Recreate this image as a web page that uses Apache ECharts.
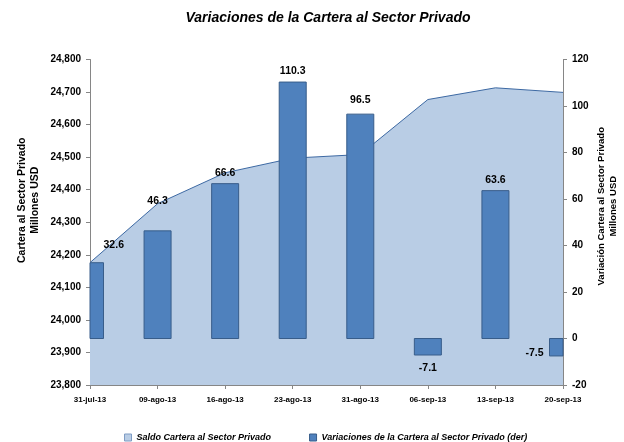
<!DOCTYPE html>
<html>
<head>
<meta charset="utf-8">
<script src="https://cdn.jsdelivr.net/npm/echarts@6/dist/echarts.min.js"></script>
<style>
  html, body { margin: 0; padding: 0; background: #fff; }
  #chart { width: 624px; height: 442px; }
</style>
</head>
<body>
<div id="chart"></div>
<script>
var dom = document.getElementById("chart");
var myChart = echarts.init(dom);

var FONT = "'Liberation Sans', Arial, sans-serif";

// datos
var fechas = ['31-jul-13', '09-ago-13', '16-ago-13', '23-ago-13', '31-ago-13', '06-sep-13', '13-sep-13', '20-sep-13'];
var saldo = [24176, 24357, 24452, 24497, 24508, 24677, 24713, 24699];
var variaciones = [32.6, 46.3, 66.6, 110.3, 96.5, -7.1, 63.6, -7.5];

// ajuste manual de etiquetas (como en el original)
var etiquetas = {
    0: { pos: 'top', dx: 17, dy: -7 },
    1: { pos: 'top', dx: 0, dy: -19 },
    4: { pos: 'top', dx: 0, dy: -4 },
    5: { pos: 'bottom', dx: 0, dy: 3 },
    7: { pos: 'left', dx: -1, dy: 6 }
};

var barData = [];
for (var i = 0; i < variaciones.length; i++) {
    barData.push([i, variaciones[i]]);
}

// barras recortadas al area del grafico (las de los extremos quedan a la mitad)
function renderBar(params, api) {
    var idx = api.value(0);
    var val = api.value(1);
    var top = api.coord([idx, val]);
    var base = api.coord([idx, 0]);
    var w = 27;
    var cs = params.coordSys;
    var rect = echarts.graphic.clipRectByRect({
        x: top[0] - w / 2,
        y: Math.min(top[1], base[1]),
        width: w,
        height: Math.abs(base[1] - top[1])
    }, { x: cs.x, y: cs.y, width: cs.width, height: cs.height });
    if (!rect) return;

    var e = etiquetas[idx] || { pos: 'top', dx: 0, dy: 0 };
    var tx, ty, align = 'center', valign = 'bottom';
    if (e.pos === 'top') {
        tx = rect.x + rect.width / 2; ty = rect.y - 5;
    } else if (e.pos === 'bottom') {
        tx = rect.x + rect.width / 2; ty = rect.y + rect.height + 5; valign = 'top';
    } else {
        tx = rect.x - 5; ty = rect.y + rect.height / 2; align = 'right'; valign = 'middle';
    }

    return {
        type: 'group',
        children: [
            {
                type: 'rect',
                shape: rect,
                style: { fill: '#4F81BD', stroke: '#385D8A', lineWidth: 1 }
            },
            {
                type: 'text',
                x: tx + e.dx,
                y: ty + e.dy,
                style: {
                    text: val.toFixed(1),
                    align: align,
                    verticalAlign: valign,
                    font: 'bold 10.5px ' + FONT,
                    fill: '#000'
                }
            }
        ]
    };
}

var option = {
    backgroundColor: '#fff',
    title: {
        text: 'Variaciones de la Cartera al Sector Privado',
        left: 323,
        textAlign: 'center',
        top: 6,
        textStyle: {
            fontFamily: FONT,
            fontSize: 14,
            fontWeight: 'bold',
            fontStyle: 'italic',
            color: '#000'
        }
    },
    legend: {
        left: 119,
        top: 428,
        itemWidth: 7,
        itemHeight: 7,
        itemGap: 38,
        icon: 'rect',
        textStyle: {
            fontFamily: FONT,
            fontSize: 9,
            fontWeight: 'bold',
            fontStyle: 'italic',
            color: '#000'
        },
        data: [
            { name: 'Saldo Cartera al Sector Privado', itemStyle: { color: '#B9CDE5', borderColor: '#7F9CC4', borderWidth: 1 } },
            { name: 'Variaciones de la Cartera al Sector Privado (der)', itemStyle: { color: '#4F81BD', borderColor: '#385D8A', borderWidth: 1 } }
        ]
    },
    grid: {
        left: 90,
        right: 61,
        top: 59.5,
        bottom: 57,
        outerBoundsMode: 'none'
    },
    xAxis: {
        type: 'category',
        boundaryGap: false,
        data: fechas,
        axisLine: { onZero: false, lineStyle: { color: '#868686' } },
        axisTick: { show: true, length: 4, lineStyle: { color: '#868686' } },
        axisLabel: {
            fontFamily: FONT,
            fontSize: 8,
            fontWeight: 'bold',
            color: '#000',
            margin: 11,
            interval: 0
        }
    },
    yAxis: [
        {
            type: 'value',
            min: 23800,
            max: 24800,
            interval: 100,
            position: 'left',
            name: 'Cartera al Sector Privado\nMillones USD',
            nameLocation: 'middle',
            nameRotate: 90,
            nameGap: 48,
            nameMoveOverlap: false,
            nameTextStyle: {
                fontFamily: FONT,
                fontSize: 10.5,
                fontWeight: 'bold',
                color: '#000',
                lineHeight: 13,
                padding: [0, 0, 0, 44]
            },
            axisLine: { show: true, lineStyle: { color: '#868686' } },
            axisTick: { show: true, length: 4, lineStyle: { color: '#868686' } },
            splitLine: { show: false },
            axisLabel: {
                fontFamily: FONT,
                fontSize: 10,
                fontWeight: 'bold',
                color: '#000',
                margin: 9,
                formatter: function (v) { return v.toLocaleString('en-US'); }
            }
        },
        {
            type: 'value',
            min: -20,
            max: 120,
            interval: 20,
            position: 'right',
            name: 'Variación Cartera al Sector Privado\nMillones USD',
            nameLocation: 'middle',
            nameRotate: 90,
            nameGap: 32,
            nameMoveOverlap: false,
            nameTextStyle: {
                fontFamily: FONT,
                fontSize: 9.5,
                fontWeight: 'bold',
                color: '#000',
                lineHeight: 12,
                padding: [0, 0, 0, 32]
            },
            axisLine: { show: true, lineStyle: { color: '#868686' } },
            axisTick: { show: true, length: 4, lineStyle: { color: '#868686' } },
            splitLine: { show: false },
            axisLabel: {
                fontFamily: FONT,
                fontSize: 10,
                fontWeight: 'bold',
                color: '#000',
                margin: 9
            }
        }
    ],
    series: [
        {
            name: 'Saldo Cartera al Sector Privado',
            type: 'line',
            yAxisIndex: 0,
            data: saldo,
            symbol: 'none',
            lineStyle: { color: '#3D69A3', width: 1 },
            itemStyle: { color: '#B9CDE5' },
            areaStyle: { color: '#B9CDE5', opacity: 1, origin: 'start' },
            z: 1
        },
        {
            name: 'Variaciones de la Cartera al Sector Privado (der)',
            type: 'custom',
            yAxisIndex: 1,
            data: barData,
            renderItem: renderBar,
            itemStyle: { color: '#4F81BD' },
            z: 2
        }
    ]
};

myChart.setOption(option);
</script>
</body>
</html>
